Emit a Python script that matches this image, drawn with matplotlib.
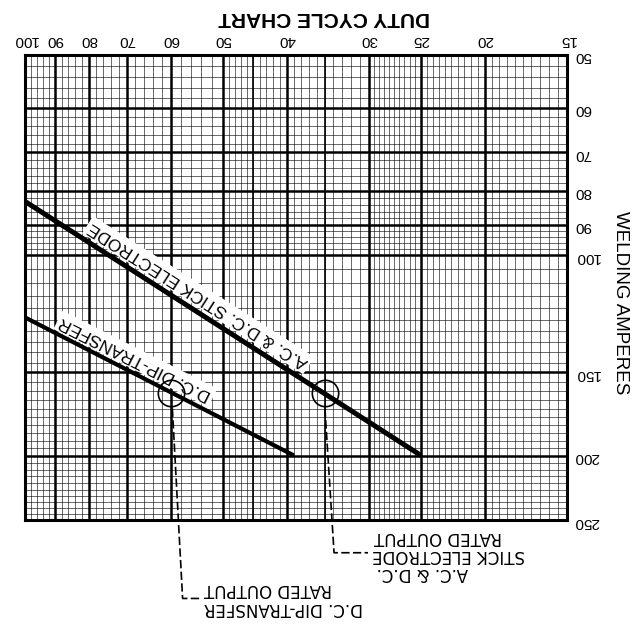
import numpy as np
import matplotlib
matplotlib.use('Agg')
import matplotlib.pyplot as plt
from matplotlib.ticker import NullFormatter

plt.rcParams['font.family'] = ['Liberation Sans', 'DejaVu Sans']

# Data (chart is printed upside down, so everything is drawn rotated 180 deg)
x_ticks = [15, 20, 25, 30, 40, 50, 60, 70, 80, 90, 100]
x_labels = ['15', '20', '25', '30', '40', '50', '60', '70', '80', '90', '100']
y_ticks = [50, 60, 70, 80, 90, 100, 150, 200, 250]
y_labels = ['50', '60', '70', '80', '90', '100', '150', '200', '250']

stick_duty = [100, 25]
stick_amps = [83, 200]
dip_duty = [100, 39]
dip_amps = [124, 200]

# rated output points
stick_rated = (35, 161)
dip_rated = (60, 161)

# leader lines from the circles to the notes
stick_lead_x = [35, 33.9, 30.1]
stick_lead_y = [170, 280, 280]
dip_lead_x = [59.7, 57.6, 54.3]
dip_lead_y = [170, 328, 328]

fig = plt.figure(figsize=(6.36, 6.26), dpi=100)
ax = fig.add_axes([25 / 636, 1 - 520 / 626, 542 / 636, 465 / 626])
ax.set_xscale('log')
ax.set_yscale('log')
ax.set_xlim(100, 15)
ax.set_ylim(250, 50)

# graph paper grid
fine_x = np.concatenate([np.arange(15, 30, 0.5), np.arange(30, 50, 1), np.arange(50, 100, 2)])
fine_y = np.concatenate([np.arange(50, 100, 2), np.arange(100, 250, 5)])
for v in fine_x:
    ax.axvline(v, color='black', lw=0.55, alpha=0.75, zorder=1)
for v in fine_y:
    ax.axhline(v, color='black', lw=0.55, alpha=0.75, zorder=1)
for v in [35, 45]:
    ax.axvline(v, color='black', lw=1.2, zorder=2)
for v in x_ticks:
    ax.axvline(v, color='black', lw=1.8, zorder=2)
for v in y_ticks:
    ax.axhline(v, color='black', lw=1.8, zorder=2)

# duty cycle lines
ax.plot(stick_duty, stick_amps, color='black', lw=3.6, solid_capstyle='butt', zorder=5)
ax.plot(dip_duty, dip_amps, color='black', lw=3.0, solid_capstyle='butt', zorder=5)

# rated output circles
for px, py in [stick_rated, dip_rated]:
    ax.plot(px, py, marker='o', ms=19, mfc='none', mec='black', mew=1.2, zorder=6)

ax.plot(stick_lead_x, stick_lead_y, color='black', lw=1.2, ls=(0, (5, 2)), clip_on=False, zorder=6)
ax.plot(dip_lead_x, dip_lead_y, color='black', lw=1.2, ls=(0, (5, 2)), clip_on=False, zorder=6)

# labels along the lines
ax.annotate('A.C. & D.C. STICK ELECTRODE', xy=(56, 83 * (56 / 100) ** (-0.634)),
            xytext=(7.5, 12.5), textcoords='offset pixels', rotation=147.5,
            ha='center', va='center', fontsize=12.5, zorder=4,
            bbox=dict(facecolor='white', edgecolor='none', pad=2))
ax.annotate('D.C. DIP-TRANSFER', xy=(69.4, 124 * (69.4 / 100) ** (-0.511)),
            xytext=(6, 12.5), textcoords='offset pixels', rotation=153.3,
            ha='center', va='center', fontsize=12.5, zorder=4,
            bbox=dict(facecolor='white', edgecolor='none', pad=2))

# ticks
ax.set_xticks(x_ticks)
ax.set_xticklabels(x_labels)
ax.set_yticks(y_ticks)
ax.set_yticklabels(y_labels)
ax.xaxis.set_minor_formatter(NullFormatter())
ax.yaxis.set_minor_formatter(NullFormatter())
ax.xaxis.set_ticks_position('top')
ax.yaxis.set_ticks_position('right')
ax.tick_params(which='both', length=0)
ax.tick_params(axis='x', pad=6, labelsize=11, labelrotation=180)
ax.tick_params(axis='y', pad=5, labelsize=11, labelrotation=180)
for s in ax.spines.values():
    s.set_linewidth(2.2)
    s.set_zorder(7)

fig.text(324 / 636, 1 - 17 / 626, 'DUTY CYCLE CHART', rotation=180, ha='center', va='center',
         fontsize=15, fontweight='bold')
fig.text(620 / 636, 1 - 303 / 626, 'WELDING AMPERES', rotation=-90, ha='center', va='center',
         fontsize=13.5)

# notes below the chart
note = dict(rotation=180, ha='left', va='center', fontsize=12, family=['DejaVu Sans'])
fig.text(374 / 636, 1 - 537 / 626, 'RATED OUTPUT', **note)
fig.text(372 / 636, 1 - 555 / 626, 'STICK ELECTRODE', **note)
fig.text(377 / 636, 1 - 573 / 626, 'A.C. & D.C.', **note)
fig.text(204 / 636, 1 - 589 / 626, 'RATED OUTPUT', **note)
fig.text(204 / 636, 1 - 608 / 626, 'D.C. DIP-TRANSFER', **note)

fig.savefig('out.png', dpi=100)
